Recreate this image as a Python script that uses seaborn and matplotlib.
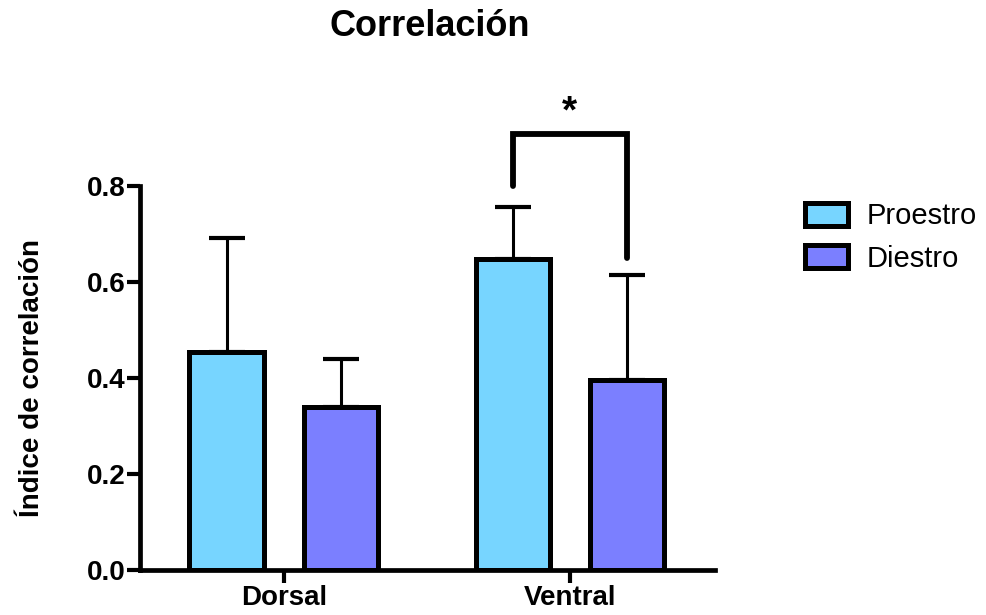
import matplotlib
matplotlib.use("Agg")
import matplotlib.pyplot as plt
import seaborn as sns
import pandas as pd
import numpy as np

regions = ["Dorsal", "Ventral"]
groups = ["Proestro", "Diestro"]
proestro_mean = [0.454, 0.648]
diestro_mean = [0.340, 0.396]
proestro_err = [0.238, 0.108]
diestro_err = [0.100, 0.219]
colors = ["#77D5FF", "#7B7FFF"]
yticks = [0.0, 0.2, 0.4, 0.6, 0.8]

sns.set_theme(style="ticks")
plt.rcParams["font.family"] = ["Liberation Sans", "DejaVu Sans"]
plt.rcParams["text.color"] = "black"
plt.rcParams["axes.labelcolor"] = "black"
plt.rcParams["xtick.color"] = "black"
plt.rcParams["ytick.color"] = "black"

df = pd.DataFrame({
    "region": regions * 2,
    "group": [groups[0]] * 2 + [groups[1]] * 2,
    "value": proestro_mean + diestro_mean,
})

fig = plt.figure(figsize=(9.87, 6.15), dpi=100)
ax = fig.add_axes([0.1418, 0.0732, 0.5826, 0.6244])

sns.barplot(data=df, x="region", y="value", hue="group", hue_order=groups,
            order=regions, palette=colors, saturation=1, width=0.8, gap=0.35,
            errorbar=None, edgecolor="black", linewidth=3.6, ax=ax, zorder=3)

# error bars (upper only)
errs = {groups[0]: proestro_err, groups[1]: diestro_err}
for container, g in zip(ax.containers, groups):
    for bar, e in zip(container, errs[g]):
        xc = bar.get_x() + bar.get_width() / 2
        h = bar.get_height()
        ax.errorbar(xc, h, yerr=[[0], [e]], fmt="none", ecolor="black",
                    elinewidth=2.2, capsize=13, capthick=3, zorder=2)

ax.set_xlim(-0.503, 1.507)
ax.set_ylim(0, 0.8)
ax.set_yticks(yticks)
ax.set_yticklabels([f"{t:.1f}" for t in yticks], fontsize=20, fontweight="bold")
ax.set_xticks([0, 1])
ax.set_xticklabels(regions, fontsize=20, fontweight="bold")
ax.tick_params(axis="both", width=3, length=9.5, color="black", pad=1)
ax.set_xlabel("")
ax.set_ylabel("Índice de correlación", fontsize=20, fontweight="bold", labelpad=30)
for s in ["left", "bottom"]:
    ax.spines[s].set_linewidth(3.4)
    ax.spines[s].set_color("black")
sns.despine(ax=ax)

# significance bracket
c0 = ax.containers[0][1]
c1 = ax.containers[1][1]
x0 = c0.get_x() + c0.get_width() / 2
x1 = c1.get_x() + c1.get_width() / 2
ax.plot([x0, x0, x1, x1], [0.80, 0.908, 0.908, 0.65], color="black",
        lw=4.2, clip_on=False, solid_capstyle="round", solid_joinstyle="miter")
ax.text((x0 + x1) / 2, 0.915, "*", ha="center", va="bottom", fontsize=28,
        fontweight="bold", clip_on=False)

fig.suptitle("Correlación", x=0.435, y=0.985, fontsize=26, fontweight="bold")

handles = [plt.Rectangle((0, 0), 1, 1, facecolor=c, edgecolor="black", linewidth=3.6)
           for c in colors]
ax.get_legend().remove()
fig.legend(handles, groups, loc="upper left", bbox_to_anchor=(0.804, 0.69),
           frameon=False, fontsize=21, handlelength=1.45, handleheight=0.85,
           handletextpad=0.65, labelspacing=0.5, borderaxespad=0)

fig.savefig("out.png", dpi=100)
